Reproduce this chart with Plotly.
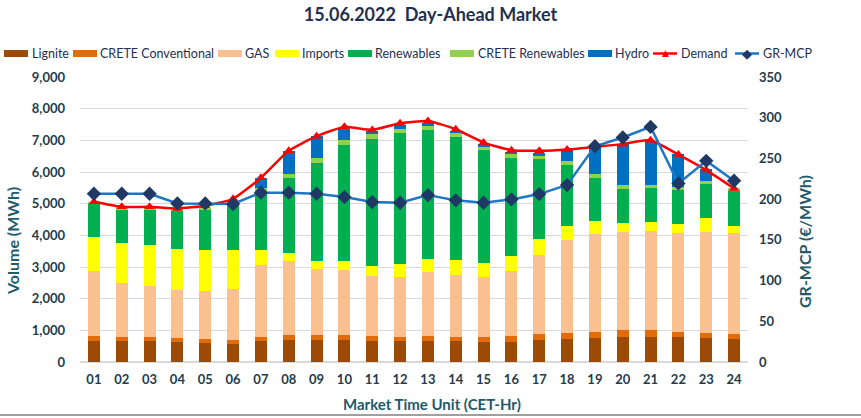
import plotly.graph_objects as go

hours = ["%02d" % h for h in range(1, 25)]

lignite = [650, 650, 650, 620, 610, 570, 650, 700, 700, 700, 670, 650,
           650, 650, 640, 640, 690, 735, 755, 790, 790, 790, 755, 735]
crete_conv = [180, 125, 125, 125, 125, 115, 140, 150, 150, 150, 150, 150,
              170, 150, 160, 180, 180, 180, 200, 220, 220, 165, 170, 160]
gas = [2030, 1735, 1620, 1520, 1510, 1615, 2280, 2340, 2100, 2070, 1900, 1890,
       2030, 1950, 1900, 2060, 2510, 2940, 3075, 3090, 3120, 3110, 3180, 3170]
imports = [1100, 1250, 1300, 1310, 1280, 1240, 480, 265, 240, 270, 325, 410,
           410, 470, 420, 470, 505, 450, 420, 285, 300, 295, 440, 230]
renewables = [1030, 1050, 1115, 1220, 1285, 1395, 1830, 2370, 3100, 3650, 4010, 4135,
              4065, 3885, 3570, 3100, 2530, 1910, 1365, 1080, 1070, 1070, 1070, 1100]
crete_ren = [60, 70, 60, 55, 60, 70, 100, 125, 155, 165, 135, 135,
             135, 125, 125, 115, 105, 135, 125, 125, 95, 95, 95, 95]
hydro = [0, 0, 0, 0, 0, 0, 340, 715, 685, 360, 120, 100,
         95, 65, 60, 75, 65, 335, 870, 1310, 1385, 1030, 370, 0]
demand = [5060, 4900, 4900, 4850, 4935, 5155, 5820, 6670, 7130, 7425, 7330, 7540,
          7610, 7350, 6930, 6690, 6670, 6710, 6795, 6880, 7005, 6550, 6060, 5480]
gr_mcp = [206.6, 206.6, 206.6, 194.8, 194.8, 194.0, 207.9, 207.9, 206.6, 202.6, 196.4, 195.6,
          205.0, 198.5, 195.6, 199.7, 206.2, 217.3, 265.0, 275.7, 288.7, 219.3, 247.0, 222.6]

W, H = 861, 418
ML, MR, MT, MB = 80, 113, 77, 56
PW, PH = W - ML - MR, H - MT - MB

font_family = "Lato, 'Open Sans', sans-serif"
tick_color = "#243B4A"
title_color = "#215A6B"
legend_color = "#1F3050"

colors = {
    "Lignite": "#9C4A06",
    "CRETE Conventional": "#E36C09",
    "GAS": "#FAC090",
    "Imports": "#FFFF00",
    "Renewables": "#00B050",
    "CRETE Renewables": "#92D050",
    "Hydro": "#0070C0",
    "Demand": "#FF0000",
    "GR-MCP": "#1F77C4",
}
mcp_marker = "#203864"

fig = go.Figure()
bars = [
    ("Lignite", lignite),
    ("CRETE Conventional", crete_conv),
    ("GAS", gas),
    ("Imports", imports),
    ("Renewables", renewables),
    ("CRETE Renewables", crete_ren),
    ("Hydro", hydro),
]
for name, vals in bars:
    fig.add_trace(go.Bar(x=hours, y=vals, name=name,
                         marker=dict(color=colors[name], line=dict(width=0)), width=0.43))

fig.add_trace(go.Scatter(x=hours, y=demand, name="Demand", mode="lines+markers",
                         line=dict(color=colors["Demand"], width=2.5, shape="spline", smoothing=0.5),
                         marker=dict(symbol="triangle-up", size=9, color=colors["Demand"])))
fig.add_trace(go.Scatter(x=hours, y=gr_mcp, name="GR-MCP", mode="lines+markers", yaxis="y2",
                         line=dict(color=colors["GR-MCP"], width=2.5),
                         marker=dict(symbol="diamond", size=11, color=mcp_marker)))


def px(x):
    return (x - ML) / PW


def py(y):
    return (H - MB - y) / PH


# manual one-row legend (swatch start x, text start x)
legend_items = [
    ("Lignite", 4, 30, "box"),
    ("CRETE Conventional", 73, 98, "box"),
    ("GAS", 218, 243, "box"),
    ("Imports", 275, 300, "box"),
    ("Renewables", 348, 373, "box"),
    ("CRETE Renewables", 450, 476, "box"),
    ("Hydro", 588, 613, "box"),
    ("Demand", 653, 679, "line"),
    ("GR-MCP", 735, 761, "line"),
]
ly = 53.5
for name, sx, tx, kind in legend_items:
    if kind == "box":
        fig.add_shape(type="rect", xref="paper", yref="paper",
                      x0=px(sx), x1=px(sx + 24), y0=py(ly - 3.5), y1=py(ly + 3.5),
                      fillcolor=colors[name], line=dict(width=0))
    else:
        fig.add_shape(type="line", xref="paper", yref="paper",
                      x0=px(sx), x1=px(sx + 24), y0=py(ly), y1=py(ly),
                      line=dict(color=colors[name], width=2.5))
        glyph, gcol, gsize = ("▲", colors[name], 9) if name == "Demand" else ("◆", mcp_marker, 13)
        fig.add_annotation(xref="paper", yref="paper", x=px(sx + 12), y=py(ly),
                           text=glyph, showarrow=False, xanchor="center", yanchor="middle",
                           font=dict(family="DejaVu Sans", size=gsize, color=gcol))
    fig.add_annotation(xref="paper", yref="paper", x=px(tx), y=py(ly), text=name,
                       showarrow=False, xanchor="left", yanchor="middle",
                       font=dict(size=12.5, color=legend_color, family=font_family))

# axis titles placed as annotations
fig.add_annotation(xref="paper", yref="paper", x=px(12), y=py(241), text="<b>Volume (MWh)</b>",
                   textangle=-90, showarrow=False, xanchor="center", yanchor="middle",
                   font=dict(size=16, color=title_color, family=font_family))
fig.add_annotation(xref="paper", yref="paper", x=px(804), y=py(242), text="<b>GR-MCP (€/MWh)</b>",
                   textangle=-90, showarrow=False, xanchor="center", yanchor="middle",
                   font=dict(size=16, color=title_color, family=font_family))
fig.add_annotation(xref="paper", yref="paper", x=px(432), y=py(404),
                   text="<b>Market Time Unit (CET-Hr)</b>",
                   showarrow=False, xanchor="center", yanchor="middle",
                   font=dict(size=15, color=title_color, family=font_family))

fig.update_layout(
    width=W, height=H,
    barmode="stack",
    showlegend=False,
    plot_bgcolor="white", paper_bgcolor="white",
    margin=dict(l=ML, r=MR, t=MT, b=MB, autoexpand=False),
    font=dict(family=font_family, color=tick_color),
    title=dict(text="<b>15.06.2022  Day-Ahead Market</b>", x=0.5, xanchor="center",
               y=0.98, yanchor="top", font=dict(size=18, color=legend_color)),
    xaxis=dict(type="category", range=[-0.5, 23.5], showgrid=False, showline=False,
               automargin=False, ticks="", ticklabelstandoff=8,
               tickprefix="<b>", ticksuffix="</b>",
               tickfont=dict(size=13, color=tick_color, family=font_family)),
    yaxis=dict(range=[0, 9000], dtick=1000, tickformat=",", showgrid=True,
               gridcolor="#D9D9D9", gridwidth=1, zeroline=True, zerolinecolor="#D9D9D9",
               showline=False, ticks="", ticklabelstandoff=14, automargin=False,
               tickprefix="<b>", ticksuffix="</b>",
               tickfont=dict(size=13, color=tick_color)),
    yaxis2=dict(range=[0, 350], dtick=50, overlaying="y", side="right", showgrid=False,
                zeroline=False, showline=False, ticks="", ticklabelstandoff=10, automargin=False,
                tickprefix="<b>", ticksuffix="</b>",
                tickfont=dict(size=13, color=tick_color)),
)

fig.add_shape(type="line", xref="paper", yref="paper", x0=px(0), x1=px(W), y0=py(415), y1=py(415),
              line=dict(color="#404040", width=1))

fig.write_html("out.html", config={"displayModeBar": False},
               post_script="document.body.style.margin='0';document.body.style.overflow='hidden';")
